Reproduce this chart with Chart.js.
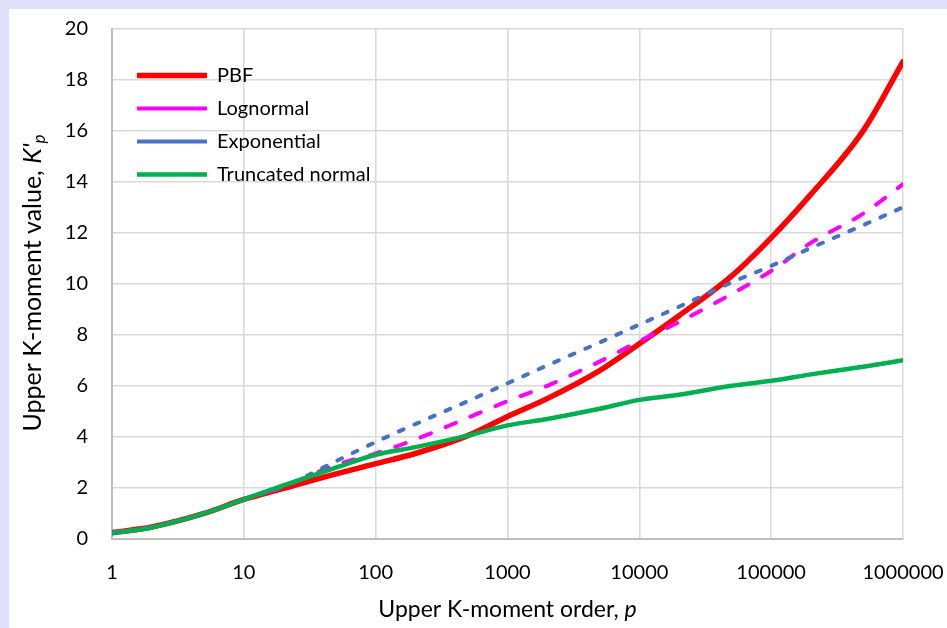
<!DOCTYPE html>
<html>
<head>
<meta charset="utf-8">
<script src="https://cdn.jsdelivr.net/npm/chart.js@4.4.1/dist/chart.umd.min.js"></script>
<style>
    body {
        margin: 0;
        background: #e0e0fa;
        width: 947px;
        height: 628px;
        overflow: hidden;
    }
    .panel {
        position: absolute;
        left: 9px;
        top: 9px;
        width: 938px;
        height: 619px;
        background: #ffffff;
    }
</style>
</head>
<body>
<div class="panel">
    <canvas id="kmChart" width="938" height="619"></canvas>
</div>
<script>
// Upper K-moment order p (x values shared by all series)
const orders = [1, 2, 5, 10, 20, 50, 100, 200, 500, 1000, 2000, 5000,
    10000, 20000, 50000, 100000, 200000, 500000, 1000000];

// K'p values
const pbf         = [0.25, 0.47, 1.0, 1.55, 1.98, 2.55, 2.95, 3.35, 4.05, 4.8, 5.5, 6.6, 7.65, 8.75, 10.3, 11.8, 13.5, 16.0, 18.7];
const lognormal   = [0.25, 0.47, 1.0, 1.55, 2.05, 2.9, 3.35, 3.9, 4.75, 5.4, 6.0, 6.95, 7.75, 8.5, 9.6, 10.5, 11.6, 12.75, 13.9];
const exponential = [0.25, 0.47, 1.0, 1.55, 2.05, 3.05, 3.8, 4.5, 5.4, 6.1, 6.8, 7.7, 8.4, 9.1, 10.05, 10.7, 11.4, 12.3, 13.0];
const truncNormal = [0.22, 0.45, 1.0, 1.55, 2.1, 2.8, 3.3, 3.6, 4.05, 4.45, 4.7, 5.1, 5.45, 5.65, 6.0, 6.2, 6.45, 6.75, 7.0];

// Axis ticks
const xTicks = [1, 10, 100, 1000, 10000, 100000, 1000000];
const xTickLabels = ['1', '10', '100', '1000', '10000', '100000', '1000000'];
const yTicks = [0, 2, 4, 6, 8, 10, 12, 14, 16, 18, 20];

const toPoints = vals => vals.map((v, i) => ({ x: orders[i], y: v }));

const fam = 'Lato, "Open Sans", sans-serif';
Chart.defaults.font.family = fam;
Chart.defaults.font.size = 20;
Chart.defaults.color = '#000000';

// Axis titles with italic / subscript parts
function drawRuns(ctx, runs) {
    let total = 0;
    runs.forEach(r => {
        ctx.font = r.font;
        r.w = ctx.measureText(r.text).width;
        total += r.w;
    });
    let x = -total / 2;
    runs.forEach(r => {
        ctx.font = r.font;
        ctx.fillText(r.text, x, r.dy || 0);
        x += r.w;
    });
}

const axisTitles = {
    id: 'axisTitles',
    afterDraw(chart) {
        const ctx = chart.ctx;
        const area = chart.chartArea;
        ctx.save();
        ctx.fillStyle = '#000000';
        ctx.textBaseline = 'middle';

        // x title
        ctx.save();
        ctx.translate((area.left + area.right) / 2, 601);
        drawRuns(ctx, [
            { text: 'Upper K-moment order, ', font: '23px ' + fam },
            { text: 'p', font: 'italic 23px ' + fam }
        ]);
        ctx.restore();

        // y title
        ctx.save();
        ctx.translate(24, 274);
        ctx.rotate(-Math.PI / 2);
        drawRuns(ctx, [
            { text: 'Upper K-moment value, ', font: '25px ' + fam },
            { text: "K'", font: 'italic 25px ' + fam },
            { text: 'p', font: 'italic 17px ' + fam, dy: 7 }
        ]);
        ctx.restore();

        ctx.restore();
    }
};

// Put the legend inside the plot area, top left
const legendInside = {
    id: 'legendInside',
    afterLayout(chart) {
        chart.legend.left = chart.chartArea.left + 12;
        chart.legend.top = chart.chartArea.top + 24;
    }
};

const ctx = document.getElementById('kmChart').getContext('2d');
const kmChart = new Chart(ctx, {
    type: 'line',
    data: {
        datasets: [
            {
                label: 'PBF',
                data: toPoints(pbf),
                borderColor: '#ff0000',
                backgroundColor: '#ff0000',
                borderWidth: 5.5,
                borderCapStyle: 'round',
                order: 3
            },
            {
                label: 'Lognormal',
                data: toPoints(lognormal),
                borderColor: '#ff00ff',
                backgroundColor: '#ff00ff',
                borderWidth: 4,
                borderDash: [11, 16],
                borderCapStyle: 'round',
                order: 2
            },
            {
                label: 'Exponential',
                data: toPoints(exponential),
                borderColor: '#4472c4',
                backgroundColor: '#4472c4',
                borderWidth: 4,
                borderDash: [5, 12],
                borderCapStyle: 'round',
                order: 1
            },
            {
                label: 'Truncated normal',
                data: toPoints(truncNormal),
                borderColor: '#00b050',
                backgroundColor: '#00b050',
                borderWidth: 4.5,
                borderCapStyle: 'round',
                order: 0
            }
        ]
    },
    options: {
        responsive: false,
        animation: false,
        events: [],
        layout: {
            padding: { left: 0, top: 19.5, right: 44, bottom: 0 }
        },
        elements: {
            point: { radius: 0 },
            line: { cubicInterpolationMode: 'monotone' }
        },
        plugins: {
            tooltip: { enabled: false },
            legend: {
                position: 'chartArea',
                align: 'start',
                labels: {
                    usePointStyle: true,
                    pointStyle: 'line',
                    pointStyleWidth: 70,
                    padding: 13,
                    color: '#000000',
                    font: { size: 20 },
                    sort: (a, b) => a.datasetIndex - b.datasetIndex
                }
            }
        },
        scales: {
            x: {
                type: 'logarithmic',
                min: 1,
                max: 1000000,
                afterBuildTicks: scale => {
                    scale.ticks = xTicks.map(v => ({ value: v }));
                },
                afterFit: scale => {
                    scale.height = 89;
                    scale.paddingLeft = 0;
                    scale.paddingRight = 0;
                },
                ticks: {
                    padding: 22,
                    maxRotation: 0,
                    autoSkip: false,
                    callback: (value, index) => xTickLabels[index]
                },
                grid: {
                    color: '#d9d9d9',
                    lineWidth: 1.5,
                    drawTicks: false
                },
                border: { color: '#bfbfbf', width: 2 }
            },
            y: {
                type: 'linear',
                min: 0,
                max: 20,
                afterBuildTicks: scale => {
                    scale.ticks = yTicks.map(v => ({ value: v }));
                },
                afterFit: scale => {
                    scale.width = 103;
                    scale.paddingTop = 0;
                    scale.paddingBottom = 0;
                },
                ticks: {
                    padding: 24
                },
                grid: {
                    color: '#d9d9d9',
                    lineWidth: 1.5,
                    drawTicks: false
                },
                border: { color: '#bfbfbf', width: 2 }
            }
        }
    },
    plugins: [axisTitles, legendInside]
});
</script>
</body>
</html>
